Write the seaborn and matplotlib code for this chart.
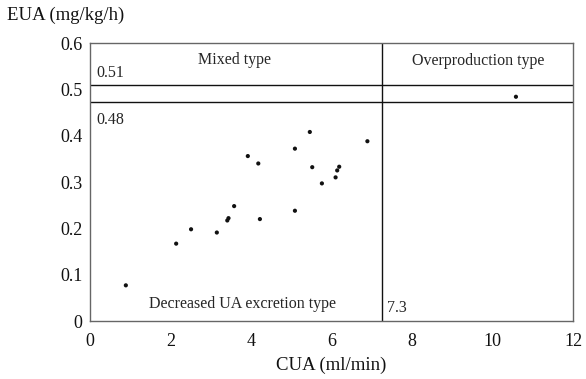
import matplotlib
matplotlib.use("Agg")
import matplotlib.pyplot as plt
import seaborn as sns
import pandas as pd

cua = [0.89, 2.14, 2.51, 3.15, 3.41, 3.44, 3.58, 3.92, 4.18, 4.22,
       5.09, 5.09, 5.46, 5.52, 5.76, 6.10, 6.14, 6.19, 6.89, 10.58]
eua = [0.077, 0.167, 0.198, 0.191, 0.217, 0.222, 0.248, 0.356, 0.340, 0.220,
       0.372, 0.238, 0.408, 0.332, 0.297, 0.310, 0.325, 0.333, 0.388, 0.484]

h_lines = [0.51, 0.472]
v_line = 7.25
x_ticks = [0, 2, 4, 6, 8, 10, 12]
y_ticks = [0, 0.1, 0.2, 0.3, 0.4, 0.5, 0.6]
y_tick_labels = ["0", "0.1", "0.2", "0.3", "0.4", "0.5", "0.6"]

df = pd.DataFrame({"CUA": cua, "EUA": eua})

sns.set_theme(style="white")
plt.rcParams["font.family"] = ["Liberation Serif", "DejaVu Serif"]

fig = plt.figure(figsize=(5.86, 3.79), dpi=100)
ax = fig.add_axes([0.1536, 0.153, 0.8244, 0.7335])

sns.scatterplot(data=df, x="CUA", y="EUA", ax=ax, color="#111111", s=9,
                edgecolor="none", zorder=3)

for h in h_lines:
    ax.axhline(h, color="#111111", lw=1.0)
ax.plot([v_line, v_line], [0, 0.6], color="#111111", lw=1.0)

ax.set_xlim(0, 12)
ax.set_ylim(0, 0.6)
ax.set_xticks(x_ticks)
ax.set_xticklabels([str(t) for t in x_ticks])
ax.set_yticks(y_ticks)
ax.set_yticklabels(y_tick_labels)
ax.tick_params(length=0, labelsize=13, colors="#111111")
ax.tick_params(axis="x", pad=8.5)
ax.tick_params(axis="y", pad=5.5)
for s in ax.spines.values():
    s.set_color("#666666")
    s.set_linewidth(1.0)

ax.set_xlabel("CUA (ml/min)", fontsize=13.5, color="#111111", labelpad=5)
ax.set_ylabel("")
fig.text(0.012, 0.96, "EUA (mg/kg/h)", fontsize=13.5, color="#111111",
         ha="left", va="center")

fs = 11.5
ax.text(3.6, 0.564, "Mixed type", ha="center", va="center", fontsize=fs)
ax.text(9.65, 0.562, "Overproduction type", ha="center", va="center", fontsize=fs)
ax.text(0.17, 0.536, "0.51", ha="left", va="center", fontsize=fs)
ax.text(0.17, 0.434, "0.48", ha="left", va="center", fontsize=fs)
ax.text(3.8, 0.037, "Decreased UA excretion type", ha="center", va="center", fontsize=fs)
ax.text(7.37, 0.029, "7.3", ha="left", va="center", fontsize=fs)

fig.savefig("out.png", dpi=100)
